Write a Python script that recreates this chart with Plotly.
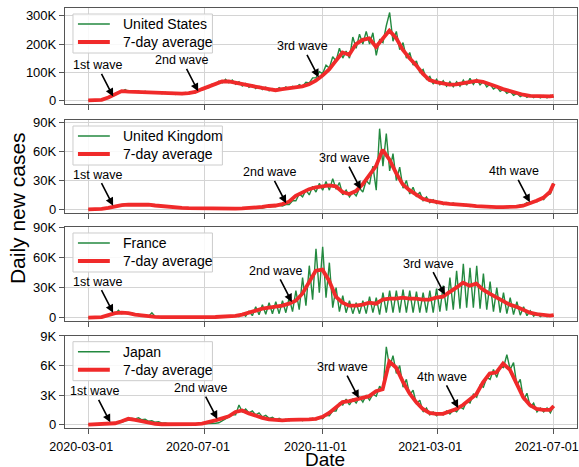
import pandas as pd
import plotly.graph_objects as go
from plotly.subplots import make_subplots

START, END = "2020-03-01", "2021-07-01"
COUNTRIES = ["United States", "United Kingdom", "France", "Japan"]
AVG_LABEL = "7-day average"
XTICKS = ["2020-03-01", "2020-07-01", "2020-11-01", "2021-03-01", "2021-07-01"]
YTICKS = [[0, 100, 200, 300], [0, 30, 60, 90], [0, 30, 60, 90], [0, 3, 6, 9]]
YTICKTEXT = [["0", "100K", "200K", "300K"], ["0", "30K", "60K", "90K"],
             ["0", "30K", "60K", "90K"], ["0", "3K", "6K", "9K"]]

# daily new cases (thousands), sampled every ~3.5 days from START to END
US_DAILY = [0, 0, 0.5, 0.5, 2, 4, 9, 14, 19, 27,
            30, 38, 31, 34, 29, 33, 27, 32, 26, 30,
            25, 30, 24, 29, 22, 28, 21, 27, 21, 28,
            23, 30, 27, 36, 37, 48, 45, 58, 55, 68,
            62, 75, 62, 72, 57, 66, 51, 60, 46, 55,
            42, 50, 38, 47, 34, 42, 33, 45, 37, 48,
            40, 50, 44, 56, 50, 64, 62, 80, 80, 102,
            95, 125, 115, 155, 140, 185, 150, 175, 150, 225,
            185, 235, 200, 245, 200, 240, 160, 215, 205, 265,
            312, 210, 245, 180, 205, 150, 170, 125, 140, 100,
            110, 75, 85, 58, 75, 55, 70, 50, 66, 48,
            66, 50, 72, 54, 78, 57, 75, 55, 68, 48,
            58, 40, 48, 32, 40, 25, 32, 18, 25, 13,
            20, 11, 19, 10, 17, 9, 17, 9, 18, 11]
UK_DAILY = [0, 0, 0.1, 0.2, 0.5, 1, 1.5, 2.5, 3.5, 4.2,
            4.5, 5.5, 4.8, 5.5, 4.8, 5.5, 4.6, 5.4, 4.3, 5,
            3.7, 4.2, 3, 3.4, 2.3, 2.7, 1.8, 2.2, 1.4, 1.7,
            1.1, 1.3, 0.9, 1.1, 0.7, 0.9, 0.6, 0.8, 0.6, 0.8,
            0.6, 0.8, 0.7, 0.9, 0.7, 1.0, 0.9, 1.1, 1.0, 1.3,
            1.1, 1.5, 1.4, 2.2, 2.2, 3.2, 3.0, 4.2, 3.4, 5,
            5, 9, 9, 16, 13, 20, 15, 24, 18, 27,
            20, 29, 20, 32, 21, 28, 15, 20, 13, 18,
            14, 22, 18, 30, 26, 45, 20, 84, 45, 79,
            40, 58, 30, 44, 22, 30, 16, 23, 13, 18,
            9, 13, 7, 10, 6, 8, 5, 7, 5, 6.5,
            4.5, 5.5, 4, 5, 3, 3.8, 2.5, 3.3, 2.2, 3,
            2, 2.8, 2, 2.8, 2.1, 3, 2.3, 3.5, 3, 4.5,
            4.5, 7, 6, 9, 8, 11.5, 10, 15, 16, 27]
FR_DAILY = [0, 0, 0.1, 0.3, 0.8, 1.5, 2.5, 4, 3.5, 7.5,
            4, 5.5, 3.5, 5, 3, 3.5, 2, 2.5, 1.5, 5,
            1, 1.2, 0.6, 0.8, 0.4, 0.6, 0.3, 0.5, 0.3, 0.6,
            0.6, 0.3, 0.6, 0.3, 0.7, 0.4, 0.8, 0.4, 0.9, 0.5,
            0.9, 0.6, 1.5, 0.8, 2.5, 1, 4, 1.5, 6.5, 2,
            11, 3, 13, 3.5, 15, 4, 16, 4, 17, 5,
            20, 6, 27, 8, 40, 12, 52, 18, 69, 25,
            71, 20, 55, 10, 30, 6, 22, 5, 17, 4,
            15, 4, 17, 4, 21, 5, 20, 3, 25, 5,
            27, 5, 27, 5, 28, 5, 27, 5, 26, 5,
            25, 5, 27, 5, 29, 6, 32, 7, 40, 8,
            47, 9, 54, 10, 50, 10, 52, 9, 44, 8,
            36, 6, 30, 5, 25, 4, 20, 3, 16, 2.5,
            11, 2, 7, 1.5, 4.5, 1, 3.5, 1, 3, 1.5]
JP_DAILY = [0.01, 0.02, 0.03, 0.04, 0.05, 0.05, 0.06, 0.07, 0.1, 0.2,
            0.25, 0.4, 0.45, 0.65, 0.6, 0.7, 0.5, 0.55, 0.35, 0.4,
            0.25, 0.3, 0.15, 0.18, 0.08, 0.1, 0.05, 0.06, 0.04, 0.05,
            0.04, 0.06, 0.05, 0.06, 0.05, 0.07, 0.08, 0.1, 0.15, 0.2,
            0.4, 0.6, 0.75, 1.0, 1.0, 2.0, 1.3, 1.6, 1.2, 1.4,
            1.0, 1.2, 0.8, 0.95, 0.65, 0.75, 0.5, 0.65, 0.45, 0.55,
            0.4, 0.55, 0.45, 0.6, 0.4, 0.6, 0.45, 0.65, 0.5, 0.7,
            0.6, 0.95, 0.9, 1.4, 1.4, 2.2, 2.0, 2.6, 2.0, 2.6,
            2.2, 2.8, 2.3, 3.0, 2.5, 3.1, 2.9, 3.9, 3.5, 7.9,
            5.8, 7.0, 5.2, 6.0, 3.8, 4.6, 3.0, 3.5, 2.1, 2.5,
            1.3, 1.7, 1.0, 1.3, 0.9, 1.2, 1.0, 1.4, 1.1, 1.5,
            1.3, 1.8, 1.6, 2.4, 2.2, 3.1, 2.8, 4.0, 3.8, 4.8,
            4.6, 5.6, 4.8, 5.9, 5.8, 7.1, 5.6, 6.3, 4.0, 4.6,
            2.5, 3.2, 1.8, 2.2, 1.3, 1.7, 1.3, 1.7, 1.2, 1.9]

# 7-day average (thousands), weekly from START plus END
US_AVG = [0, 0.3, 2, 10, 20, 33, 31, 30, 29, 28,
          27, 26, 25, 24, 24, 26, 30, 40, 50, 60,
          67, 67, 62, 56, 51, 47, 44, 40, 36, 40,
          43, 45, 50, 57, 70, 88, 110, 140, 170, 162,
          200, 215, 220, 190, 220, 248, 222, 180, 150, 125,
          95, 72, 65, 60, 56, 57, 62, 66, 69, 66,
          56, 49, 40, 33, 27, 20, 16, 15, 14, 14, 16]
UK_AVG = [0, 0.1, 0.5, 1.5, 3.2, 4.5, 5, 5, 5, 4.8,
          4, 3.2, 2.5, 2, 1.6, 1.2, 1.0, 0.8, 0.7, 0.7,
          0.7, 0.8, 0.8, 1.0, 1.2, 1.7, 2.5, 3.5, 4, 5.5,
          8, 14, 18, 21, 23, 24, 25, 24, 18, 16,
          19, 26, 36, 45, 62, 52, 38, 26, 20, 15,
          11, 9, 7.5, 6.5, 5.8, 5.5, 5, 4.2, 3.3, 2.8,
          2.5, 2.3, 2.3, 2.4, 2.8, 3.8, 6, 9, 12, 18, 27]
FR_AVG = [0, 0.1, 0.5, 2.5, 4.5, 5, 4.5, 3, 2, 1.2,
          0.8, 0.5, 0.4, 0.4, 0.4, 0.4, 0.4, 0.5, 0.6, 0.7,
          0.9, 1.2, 1.8, 3, 5, 7.5, 9, 10, 10.7, 12,
          14, 17, 24, 36, 47, 48, 37, 21, 15, 12,
          12, 13, 15, 14, 18, 19, 19, 20, 19, 19,
          18, 18, 20, 21, 25, 30, 35, 32, 34, 28,
          24, 20, 16, 13, 11, 8, 5, 3.5, 2.5, 2, 2.5]
JP_AVG = [0.01, 0.03, 0.05, 0.06, 0.15, 0.35, 0.6, 0.5, 0.35, 0.2,
          0.1, 0.05, 0.04, 0.05, 0.05, 0.05, 0.07, 0.12, 0.25, 0.45,
          0.65, 0.85, 1.3, 1.45, 1.15, 0.9, 0.7, 0.55, 0.5, 0.45,
          0.5, 0.5, 0.5, 0.55, 0.6, 0.8, 1.2, 1.8, 2.3, 2.4,
          2.6, 2.7, 2.9, 3.4, 3.6, 6.4, 5.8, 4.4, 3.2, 2.3,
          1.6, 1.2, 1.1, 1.1, 1.3, 1.6, 2.0, 2.5, 3.1, 4.3,
          5.2, 5.3, 6.2, 5.6, 4.2, 2.8, 2.0, 1.6, 1.5, 1.5, 1.9]

DAILY = [US_DAILY, UK_DAILY, FR_DAILY, JP_DAILY]
AVG = [US_AVG, UK_AVG, FR_AVG, JP_AVG]

# wave annotations: (panel, label, date, value in thousands)
WAVES = [
    (0, "1st wave", "2020-03-27", 14), (0, "2nd wave", "2020-06-24", 32), (0, "3rd wave", "2020-10-28", 82),
    (1, "1st wave", "2020-03-27", 3.8), (1, "2nd wave", "2020-09-24", 6.3), (1, "3rd wave", "2020-12-11", 21),
    (1, "4th wave", "2021-06-06", 7.3),
    (2, "1st wave", "2020-03-27", 5), (2, "2nd wave", "2020-09-30", 15.7), (2, "3rd wave", "2021-03-09", 23),
    (3, "1st wave", "2020-03-24", 0.24), (3, "2nd wave", "2020-07-14", 0.58), (3, "3rd wave", "2020-12-09", 2.7),
    (3, "4th wave", "2021-03-23", 1.7),
]

GREEN = "#23893f"
RED = "#f02a2a"
FONT = "Liberation Sans, Arial, sans-serif"

# layout (pixels)
W, H = 579, 467
ML, MR, MT, MB = 65, 0, 8, 39
PW, PH = W - ML - MR, H - MT - MB
domains = [[0.7707, 1.0], [0.5126, 0.7333], [0.2548, 0.4786], [0.0, 0.2198]]
yranges = [[-14, 328], [-3.5, 93], [-3.3, 90.7], [-0.33, 9.03]]
legend_box_w = [148, 158, 148, 148]

daily_dates = pd.date_range(START, END, periods=len(US_DAILY))
avg_dates = pd.date_range(START, periods=len(US_AVG) - 1, freq="7D").append(pd.DatetimeIndex([END]))

fig = make_subplots(rows=4, cols=1, shared_xaxes=True)

for i, name in enumerate(COUNTRIES):
    fig.add_trace(go.Scatter(x=daily_dates, y=DAILY[i], mode="lines", name=name,
                             line=dict(color=GREEN, width=1.4), showlegend=False),
                  row=i + 1, col=1)
    fig.add_trace(go.Scatter(x=avg_dates, y=AVG[i], mode="lines", name=AVG_LABEL,
                             line=dict(color=RED, width=3.8), showlegend=False),
                  row=i + 1, col=1)

pad = pd.Timedelta(days=24.35)
xrange = [pd.Timestamp(START) - pad, pd.Timestamp(END) + pad]

axis_style = dict(showline=True, mirror=True, linecolor="#555555", linewidth=1.3,
                  ticks="outside", ticklen=5, tickwidth=1.2, tickcolor="#555555",
                  showgrid=True, gridcolor="#d4d4d4", gridwidth=1, zeroline=False)

for i in range(4):
    fig.update_yaxes(domain=domains[i], range=yranges[i], tickvals=YTICKS[i],
                     ticktext=YTICKTEXT[i], row=i + 1, col=1,
                     tickfont=dict(family=FONT, size=13, color="black"), **axis_style)
    fig.update_xaxes(range=xrange, tickvals=XTICKS, ticktext=XTICKS,
                     showticklabels=(i == 3), row=i + 1, col=1,
                     ticklabeloverflow="allow", ticklabelshift=-7, ticklabelstandoff=2,
                     tickfont=dict(family=FONT, size=12.5, color="black"), **axis_style)

# legends drawn inside each panel (offsets in pixels from the panel's top-left corner)
xds = ["x domain", "x2 domain", "x3 domain", "x4 domain"]
yds = ["y domain", "y2 domain", "y3 domain", "y4 domain"]
for i, name in enumerate(COUNTRIES):
    ph = (domains[i][1] - domains[i][0]) * PH
    fx = lambda px: px / PW
    fy = lambda py, ph=ph: 1 - py / ph
    fig.add_shape(type="rect", xref=xds[i], yref=yds[i], x0=fx(8), x1=fx(legend_box_w[i]),
                  y0=fy(6), y1=fy(45), line=dict(color="#cccccc", width=1),
                  fillcolor="rgba(255,255,255,0.85)", layer="above")
    for k, (label, color, lw) in enumerate([(name, GREEN, 1.6), (AVG_LABEL, RED, 4)]):
        yy = fy(16 + 18 * k)
        fig.add_shape(type="line", xref=xds[i], yref=yds[i], x0=fx(13), x1=fx(45),
                      y0=yy, y1=yy, line=dict(color=color, width=lw), layer="above")
        fig.add_annotation(text=label, xref=xds[i], yref=yds[i], x=fx(56), y=yy,
                           xanchor="left", yanchor="middle", showarrow=False,
                           font=dict(family=FONT, size=14, color="black"))

yrefs = ["y", "y2", "y3", "y4"]
xrefs = ["x", "x2", "x3", "x4"]
for panel, label, date, val in WAVES:
    fig.add_annotation(x=date, y=val, xref=xrefs[panel], yref=yrefs[panel], text=label,
                       showarrow=True, arrowhead=2, arrowsize=1, arrowwidth=1.6,
                       arrowcolor="black", ax=-16, ay=-31, standoff=0,
                       font=dict(family=FONT, size=12.5, color="black"))

fig.add_annotation(text="Daily new cases", xref="paper", yref="paper", x=(18 - ML) / PW, y=0.524,
                   textangle=-90, showarrow=False, xanchor="center", yanchor="middle",
                   font=dict(family=FONT, size=21, color="black"))
fig.add_annotation(text="Date", xref="paper", yref="paper", x=(326 - ML) / PW, y=(MT + PH - 459) / PH,
                   showarrow=False, xanchor="center", yanchor="middle", height=15, valign="middle",
                   font=dict(family=FONT, size=19, color="black"))

fig.update_layout(width=W, height=H, margin=dict(l=ML, r=MR, t=MT, b=MB),
                  plot_bgcolor="white", paper_bgcolor="white", hovermode=False,
                  font=dict(family=FONT, color="black"))

fig.write_html("out.html", config={"displayModeBar": False},
               post_script="document.body.style.margin='0px';document.body.style.padding='0px';")
